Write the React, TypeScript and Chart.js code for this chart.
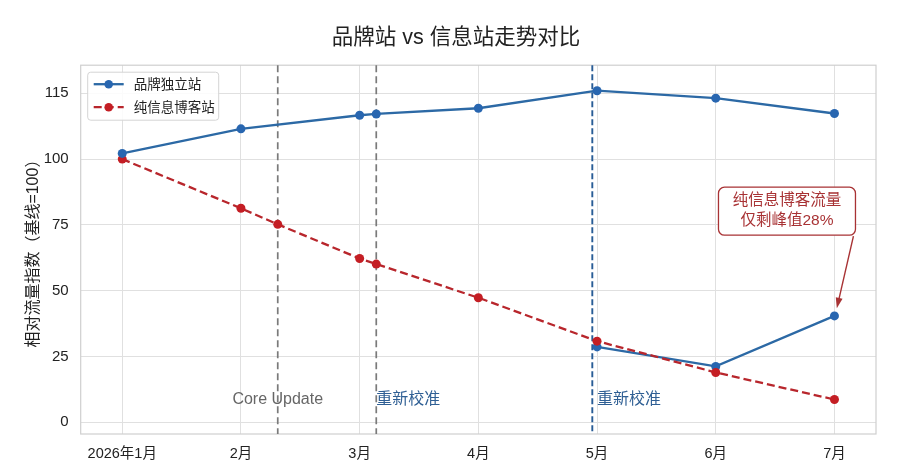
import { useEffect, useRef } from "react";
import { Chart, registerables } from "chart.js";

Chart.register(...registerables);

const FONT = "'Liberation Sans', 'Noto Sans CJK SC', sans-serif";

// x positions are month indexes (0 = 2026年1月), fractional for mid-month events
const monthLabels = ["2026年1月", "2月", "3月", "4月", "5月", "6月", "7月"];
const yTickValues = [0, 25, 50, 75, 100, 115];

const brandX = [0, 1, 2, 2.14, 3, 4, 5, 6];
const brandY = [101.3, 106.9, 110.0, 110.3, 111.6, 115.6, 113.9, 110.4];

const brandLowX = [4, 5, 6];
const brandLowY = [28.6, 21.2, 40.4];

const blogX = [0, 1, 1.31, 2, 2.14, 3, 4, 5, 6];
const blogY = [100, 81.3, 75.2, 62.2, 60.1, 47.3, 30.8, 18.9, 8.6];

const eventX = [1.31, 2.14, 3.96];
const eventLabelX = [1.31, 2.14, 4.0];
const eventLabels = ["Core Update", "重新校准", "重新校准"];
const eventLabelY = 8.7;

const titleText = "品牌站 vs 信息站走势对比";

const noteLines = ["纯信息博客流量", "仅剩峰值28%"];
const noteCenter = { x: 5.6, y: 80.2 };
const noteArrowFrom = { x: 6.16, y: 70.7 };
const noteArrowTo = { x: 6.02, y: 43.3 };

const BLUE = "#2c69a5";
const BLUE_POINT = "#2866b0";
const RED = "#b8262c";
const RED_POINT = "#c41e24";
const NOTE_RED = "#a83234";

// the axis above 100 is squeezed: 15 units there take the room of 25 below
const toAxis = (v: number) => (v <= 100 ? v : 100 + ((v - 100) * 25) / 15);
const fromAxis = (v: number) => (v <= 100 ? v : 100 + ((v - 100) * 15) / 25);

const points = (xs: number[], ys: number[]) => xs.map((x, i) => ({ x, y: toAxis(ys[i]) }));

const overlay = {
  id: "overlay",
  beforeDatasetsDraw(chart: any) {
    const { ctx, chartArea: a, scales } = chart;
    const x = scales.x;
    const y = scales.y;
    ctx.save();
    ctx.strokeStyle = "#cfcfcf";
    ctx.lineWidth = 1.2;
    ctx.strokeRect(a.left, a.top, a.right - a.left, a.bottom - a.top);

    eventX.forEach((ex, i) => {
      const px = x.getPixelForValue(ex);
      const blue = i === 2;
      ctx.beginPath();
      ctx.setLineDash(blue ? [6, 3] : [7, 4]);
      ctx.strokeStyle = blue ? "#285c96" : "#7a7a7a";
      ctx.lineWidth = blue ? 1.9 : 1.7;
      ctx.moveTo(px, a.top);
      ctx.lineTo(px, a.bottom);
      ctx.stroke();
    });
    ctx.setLineDash([]);

    ctx.font = `16px ${FONT}`;
    ctx.textBaseline = "middle";
    eventLabels.forEach((label, i) => {
      const core = i === 0;
      ctx.fillStyle = core ? "#666666" : "#2f5f94";
      ctx.textAlign = core ? "center" : "left";
      ctx.fillText(label, x.getPixelForValue(eventLabelX[i]), y.getPixelForValue(toAxis(eventLabelY)));
    });
    ctx.restore();
  },
  afterDraw(chart: any) {
    const { ctx, chartArea: a, scales } = chart;
    const x = scales.x;
    const y = scales.y;
    ctx.save();

    // title, centred on the page rather than the padded layout box
    ctx.font = `21.5px ${FONT}`;
    ctx.fillStyle = "#222222";
    ctx.textAlign = "center";
    ctx.textBaseline = "middle";
    ctx.fillText(titleText, 456, 38);

    // legend, inside the plot at top left
    const lx = a.left + 7;
    const ly = a.top + 7;
    ctx.fillStyle = "rgba(255,255,255,0.85)";
    ctx.strokeStyle = "#d4d4d4";
    ctx.lineWidth = 1;
    ctx.beginPath();
    ctx.roundRect(lx, ly, 131, 48, 3);
    ctx.fill();
    ctx.stroke();
    ctx.font = `13.5px ${FONT}`;
    ctx.textAlign = "left";
    chart.data.datasets
      .filter((d: any) => d.label)
      .forEach((d: any, i: number) => {
        const cy = ly + 12 + i * 23;
        ctx.beginPath();
        ctx.strokeStyle = d.borderColor;
        ctx.lineWidth = 2.3;
        ctx.setLineDash(d.borderDash || []);
        ctx.moveTo(lx + 6, cy);
        ctx.lineTo(lx + 36, cy);
        ctx.stroke();
        ctx.setLineDash([]);
        ctx.beginPath();
        ctx.fillStyle = d.pointBackgroundColor;
        ctx.arc(lx + 21, cy, 4.3, 0, Math.PI * 2);
        ctx.fill();
        ctx.fillStyle = "#222222";
        ctx.fillText(d.label, lx + 46, cy + 1);
      });

    // note box with arrow
    const cx = x.getPixelForValue(noteCenter.x);
    const cy = y.getPixelForValue(toAxis(noteCenter.y));
    const w = 137;
    const h = 48;
    ctx.beginPath();
    ctx.fillStyle = "#ffffff";
    ctx.strokeStyle = NOTE_RED;
    ctx.lineWidth = 1.3;
    ctx.roundRect(cx - w / 2, cy - h / 2, w, h, 6);
    ctx.fill();
    ctx.stroke();
    ctx.font = `15.5px ${FONT}`;
    ctx.textAlign = "center";
    ctx.fillStyle = NOTE_RED;
    noteLines.forEach((t, i) => ctx.fillText(t, cx, cy - 10 + i * 20));

    const x0 = x.getPixelForValue(noteArrowFrom.x);
    const y0 = y.getPixelForValue(toAxis(noteArrowFrom.y));
    const x1 = x.getPixelForValue(noteArrowTo.x);
    const y1 = y.getPixelForValue(toAxis(noteArrowTo.y));
    const ang = Math.atan2(y1 - y0, x1 - x0);
    const head = 11;
    ctx.beginPath();
    ctx.strokeStyle = NOTE_RED;
    ctx.lineWidth = 1.4;
    ctx.moveTo(x0, y0);
    ctx.lineTo(x1 - Math.cos(ang) * head * 0.8, y1 - Math.sin(ang) * head * 0.8);
    ctx.stroke();
    ctx.beginPath();
    ctx.fillStyle = NOTE_RED;
    ctx.moveTo(x1, y1);
    ctx.lineTo(x1 - head * Math.cos(ang - 0.32), y1 - head * Math.sin(ang - 0.32));
    ctx.lineTo(x1 - head * Math.cos(ang + 0.32), y1 - head * Math.sin(ang + 0.32));
    ctx.closePath();
    ctx.fill();
    ctx.restore();
  },
};

export default function App() {
  const canvasRef = useRef<HTMLCanvasElement>(null);
  const chartRef = useRef<Chart | null>(null);

  useEffect(() => {
    if (!canvasRef.current) return;
    chartRef.current?.destroy();

    const lineStyle = { borderWidth: 2.3, pointRadius: 4.5, pointHoverRadius: 4.5, pointBorderWidth: 0, tension: 0 };

    chartRef.current = new Chart(canvasRef.current, {
      type: "line",
      data: {
        datasets: [
          {
            label: "品牌独立站",
            data: points(brandX, brandY),
            borderColor: BLUE,
            pointBackgroundColor: BLUE_POINT,
            ...lineStyle,
          },
          {
            label: "纯信息博客站",
            data: points(blogX, blogY),
            borderColor: RED,
            pointBackgroundColor: RED_POINT,
            borderDash: [8, 4],
            ...lineStyle,
          },
          {
            label: "",
            data: points(brandLowX, brandLowY),
            borderColor: BLUE,
            pointBackgroundColor: BLUE_POINT,
            ...lineStyle,
          },
        ],
      } as any,
      options: {
        responsive: true,
        maintainAspectRatio: false,
        animation: false,
        layout: { padding: { left: 0, right: 24, top: 0, bottom: 0 } },
        plugins: {
          legend: { display: false },
          tooltip: { enabled: false },
          // kept only for the space above the plot; the text is drawn by the overlay
          title: {
            display: true,
            text: titleText,
            color: "rgba(0,0,0,0)",
            font: { family: FONT, size: 21, weight: "normal" },
            padding: { top: 25, bottom: 15 },
          },
        },
        scales: {
          x: {
            type: "linear",
            min: -0.35,
            max: 6.35,
            afterBuildTicks: (axis: any) => {
              axis.ticks = monthLabels.map((_, i) => ({ value: i }));
            },
            afterFit: (axis: any) => {
              axis.height = 32;
            },
            ticks: {
              color: "#222222",
              font: { family: FONT, size: 14.5 },
              padding: 11,
              maxRotation: 0,
              callback: (v: any) => monthLabels[Math.round(v)] ?? "",
            },
            grid: { color: "#e0e0e0", lineWidth: 1, drawTicks: false },
            border: { display: false },
          },
          y: {
            type: "linear",
            min: -4.5,
            max: 135.7,
            afterBuildTicks: (axis: any) => {
              axis.ticks = yTickValues.map((v) => ({ value: toAxis(v) }));
            },
            afterFit: (axis: any) => {
              axis.width = 80.7;
            },
            ticks: {
              color: "#222222",
              font: { family: FONT, size: 15 },
              padding: 12,
              callback: (v: any) => String(Math.round(fromAxis(v))),
            },
            grid: { color: "#e0e0e0", lineWidth: 1, drawTicks: false },
            border: { display: false },
            title: {
              display: true,
              text: "相对流量指数（基线=100）",
              color: "#222222",
              font: { family: FONT, size: 16 },
              padding: { top: 24, bottom: 0 },
            },
          },
        },
      } as any,
      plugins: [overlay],
    });

    return () => {
      chartRef.current?.destroy();
      chartRef.current = null;
    };
  }, []);

  return (
    <div style={{ position: "fixed", left: 0, top: 0, width: 900, height: 466, background: "#ffffff" }}>
      <canvas ref={canvasRef} />
    </div>
  );
}
